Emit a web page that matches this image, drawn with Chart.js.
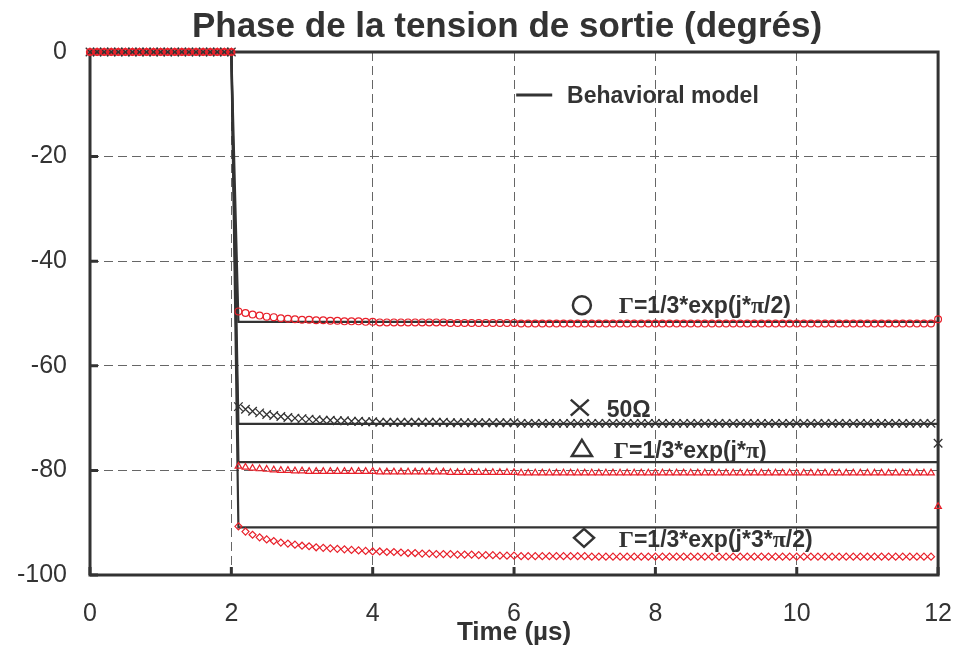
<!DOCTYPE html>
<html>
<head>
<meta charset="utf-8">
<script src="https://cdn.jsdelivr.net/npm/chart.js@4/dist/chart.umd.min.js"></script>
<style>
  html, body { margin: 0; padding: 0; background: #fff; }
  canvas { display: block; }
</style>
</head>
<body>
<canvas id="chart" width="976" height="648"></canvas>
<script>
// sample times of the simulated points (µs)
const time = [
  0, 0.1, 0.2, 0.3, 0.4, 0.5, 0.6, 0.7, 0.8, 0.9,
  1.0, 1.1, 1.2, 1.3, 1.4, 1.5, 1.6, 1.7, 1.8, 1.9,
  2.0, 2.1, 2.2, 2.3, 2.4, 2.5, 2.6, 2.7, 2.8, 2.9,
  3.0, 3.1, 3.2, 3.3, 3.4, 3.5, 3.6, 3.7, 3.8, 3.9,
  4.0, 4.1, 4.2, 4.3, 4.4, 4.5, 4.6, 4.7, 4.8, 4.9,
  5.0, 5.1, 5.2, 5.3, 5.4, 5.5, 5.6, 5.7, 5.8, 5.9,
  6.0, 6.1, 6.2, 6.3, 6.4, 6.5, 6.6, 6.7, 6.8, 6.9,
  7.0, 7.1, 7.2, 7.3, 7.4, 7.5, 7.6, 7.7, 7.8, 7.9,
  8.0, 8.1, 8.2, 8.3, 8.4, 8.5, 8.6, 8.7, 8.8, 8.9,
  9.0, 9.1, 9.2, 9.3, 9.4, 9.5, 9.6, 9.7, 9.8, 9.9,
  10.0, 10.1, 10.2, 10.3, 10.4, 10.5, 10.6, 10.7, 10.8, 10.9,
  11.0, 11.1, 11.2, 11.3, 11.4, 11.5, 11.6, 11.7, 11.8, 11.9,
  12.0
];

// Γ=1/3*exp(j*π/2)  (red circles)
const phasePi2 = [
  0, 0, 0, 0, 0, 0, 0, 0, 0, 0,
  0, 0, 0, 0, 0, 0, 0, 0, 0, 0,
  0, -49.6, -49.9, -50.2, -50.4, -50.6, -50.7, -50.9, -51.0, -51.1,
  -51.2, -51.2, -51.3, -51.3, -51.4, -51.4, -51.5, -51.5, -51.5, -51.6,
  -51.6, -51.7, -51.7, -51.7, -51.7, -51.7, -51.7, -51.7, -51.7, -51.7,
  -51.7, -51.8, -51.8, -51.8, -51.8, -51.8, -51.8, -51.8, -51.8, -51.8,
  -51.8, -51.9, -51.9, -51.9, -51.9, -51.9, -51.9, -51.9, -51.9, -51.9,
  -51.9, -51.9, -51.9, -51.9, -51.9, -51.9, -51.9, -51.9, -51.9, -51.9,
  -51.9, -51.9, -51.9, -51.9, -51.9, -51.9, -51.9, -51.9, -51.9, -51.9,
  -51.9, -51.9, -51.9, -51.9, -51.9, -51.9, -51.9, -51.9, -51.9, -51.9,
  -51.9, -51.9, -51.9, -51.9, -51.9, -51.9, -51.9, -51.9, -51.9, -51.9,
  -51.9, -51.9, -51.9, -51.9, -51.9, -51.9, -51.9, -51.9, -51.9, -51.9,
  -51.1
];

// 50Ω load (dark crosses)
const phase50 = [
  0, 0, 0, 0, 0, 0, 0, 0, 0, 0,
  0, 0, 0, 0, 0, 0, 0, 0, 0, 0,
  0, -67.8, -68.3, -68.7, -69.0, -69.3, -69.5, -69.7, -69.9, -70.0,
  -70.1, -70.2, -70.3, -70.4, -70.4, -70.5, -70.5, -70.6, -70.6, -70.7,
  -70.7, -70.8, -70.8, -70.8, -70.8, -70.8, -70.8, -70.8, -70.8, -70.8,
  -70.8, -70.9, -70.9, -70.9, -70.9, -70.9, -70.9, -70.9, -70.9, -70.9,
  -70.9, -71.0, -71.0, -71.0, -71.0, -71.0, -71.0, -71.0, -71.0, -71.0,
  -71.0, -71.0, -71.0, -71.0, -71.0, -71.0, -71.0, -71.0, -71.0, -71.0,
  -71.0, -71.0, -71.0, -71.0, -71.0, -71.0, -71.0, -71.0, -71.0, -71.0,
  -71.0, -71.0, -71.0, -71.0, -71.0, -71.0, -71.0, -71.0, -71.0, -71.0,
  -71.0, -71.0, -71.0, -71.0, -71.0, -71.0, -71.0, -71.0, -71.0, -71.0,
  -71.0, -71.0, -71.0, -71.0, -71.0, -71.0, -71.0, -71.0, -71.0, -71.0,
  -74.8
];

// Γ=1/3*exp(j*π)  (red triangles)
const phasePi = [
  0, 0, 0, 0, 0, 0, 0, 0, 0, 0,
  0, 0, 0, 0, 0, 0, 0, 0, 0, 0,
  0, -79.2, -79.4, -79.6, -79.7, -79.8, -79.9, -80.0, -80.0, -80.1,
  -80.1, -80.2, -80.2, -80.2, -80.2, -80.2, -80.2, -80.2, -80.2, -80.2,
  -80.2, -80.3, -80.3, -80.3, -80.3, -80.3, -80.3, -80.3, -80.3, -80.3,
  -80.3, -80.4, -80.4, -80.4, -80.4, -80.4, -80.4, -80.4, -80.4, -80.4,
  -80.4, -80.5, -80.5, -80.5, -80.5, -80.5, -80.5, -80.5, -80.5, -80.5,
  -80.5, -80.5, -80.5, -80.5, -80.5, -80.5, -80.5, -80.5, -80.5, -80.5,
  -80.5, -80.5, -80.5, -80.5, -80.5, -80.5, -80.5, -80.5, -80.5, -80.5,
  -80.5, -80.5, -80.5, -80.5, -80.5, -80.5, -80.5, -80.5, -80.5, -80.5,
  -80.5, -80.5, -80.5, -80.5, -80.5, -80.5, -80.5, -80.5, -80.5, -80.5,
  -80.5, -80.5, -80.5, -80.5, -80.5, -80.5, -80.5, -80.5, -80.5, -80.5,
  -86.9
];

// Γ=1/3*exp(j*3*π/2)  (red diamonds)
const phase3Pi2 = [
  0, 0, 0, 0, 0, 0, 0, 0, 0, 0,
  0, 0, 0, 0, 0, 0, 0, 0, 0, 0,
  0, -90.7, -91.7, -92.3, -92.8, -93.2, -93.5, -93.8, -94.0, -94.2,
  -94.4, -94.5, -94.7, -94.8, -94.9, -95.0, -95.1, -95.2, -95.3, -95.4,
  -95.5, -95.5, -95.6, -95.6, -95.7, -95.8, -95.8, -95.9, -95.9, -96.0,
  -96.0, -96.0, -96.1, -96.1, -96.1, -96.2, -96.2, -96.2, -96.3, -96.3,
  -96.3, -96.4, -96.4, -96.4, -96.4, -96.4, -96.4, -96.4, -96.4, -96.4,
  -96.4, -96.5, -96.5, -96.5, -96.5, -96.5, -96.5, -96.5, -96.5, -96.5,
  -96.5, -96.5, -96.5, -96.5, -96.5, -96.5, -96.5, -96.5, -96.5, -96.5,
  -96.5, -96.5, -96.5, -96.5, -96.5, -96.5, -96.5, -96.5, -96.5, -96.5,
  -96.5, -96.5, -96.5, -96.5, -96.5, -96.5, -96.5, -96.5, -96.5, -96.5,
  -96.5, -96.5, -96.5, -96.5, -96.5, -96.5, -96.5, -96.5, -96.5, -96.5,
  null
];

// behavioral model: step at 2 µs to a constant phase
const modelTime = [0, 2.0, 2.1, 12];
const modelPi2 = [0, 0, -51.6, -51.6];
const model50 = [0, 0, -71.1, -71.1];
const modelPi = [0, 0, -78.4, -78.4];
const model3Pi2 = [0, 0, -90.9, -90.9];

const xTicks = [0, 2, 4, 6, 8, 10, 12];
const yTicks = [0, -20, -40, -60, -80, -100];

const RED = "#e8202a";
const INK = "#333333";
const SANS = '"Liberation Sans", Arial, sans-serif';
const SERIF = '"Liberation Serif", "Times New Roman", serif';

function pairs(xs, ys) {
  return xs.map((x, i) => ({ x: x, y: ys[i] }));
}

function markers(label, ys, style, radius, color, width) {
  return {
    label: label,
    data: pairs(time, ys),
    showLine: false,
    pointStyle: style,
    pointRadius: radius,
    pointBorderWidth: width,
    pointBorderColor: color,
    pointBackgroundColor: "rgba(0,0,0,0)",
    borderColor: color,
    clip: 12
  };
}

function modelLine(ys) {
  return {
    label: "Behavioral model",
    data: pairs(modelTime, ys),
    showLine: true,
    borderColor: INK,
    borderWidth: 2.2,
    pointRadius: 0,
    clip: 4
  };
}

// write a line mixing fonts (Γ and π come from a serif face)
function drawRuns(ctx, x, y, runs) {
  for (const [text, font] of runs) {
    ctx.font = font;
    ctx.fillText(text, x, y);
    x += ctx.measureText(text).width;
  }
}

function gammaRuns(body) {
  const sans = "bold 23px " + SANS;
  const serif = "bold 24px " + SERIF;
  const runs = [["Γ", serif]];
  body.split("π").forEach((part, i) => {
    if (i > 0) runs.push(["π", serif]);
    if (part) runs.push([part, sans]);
  });
  return runs;
}

function drawSymbol(ctx, kind, cx, cy) {
  ctx.save();
  ctx.strokeStyle = INK;
  ctx.lineWidth = 2.5;
  ctx.beginPath();
  if (kind === "circle") {
    ctx.arc(cx, cy, 9, 0, Math.PI * 2);
  } else if (kind === "cross") {
    ctx.moveTo(cx - 9, cy - 8); ctx.lineTo(cx + 9, cy + 8);
    ctx.moveTo(cx + 9, cy - 8); ctx.lineTo(cx - 9, cy + 8);
  } else if (kind === "triangle") {
    ctx.moveTo(cx, cy - 8); ctx.lineTo(cx + 10, cy + 8); ctx.lineTo(cx - 10, cy + 8); ctx.closePath();
  } else if (kind === "diamond") {
    ctx.moveTo(cx, cy - 9); ctx.lineTo(cx + 10, cy); ctx.lineTo(cx, cy + 9); ctx.lineTo(cx - 10, cy); ctx.closePath();
  }
  ctx.stroke();
  ctx.restore();
}

// frame + inward tick marks, under the points
const framePlugin = {
  id: "frame",
  beforeDatasetsDraw(chart) {
    const { ctx, chartArea: a, scales } = chart;
    ctx.save();
    ctx.strokeStyle = INK;
    ctx.lineWidth = 3;
    ctx.strokeRect(a.left, a.top, a.right - a.left, a.bottom - a.top);
    ctx.beginPath();
    for (const t of xTicks) {
      const px = scales.x.getPixelForValue(t);
      ctx.moveTo(px, a.bottom);
      ctx.lineTo(px, a.bottom - 8);
    }
    for (const v of yTicks) {
      const py = scales.y.getPixelForValue(v);
      ctx.moveTo(a.left, py);
      ctx.lineTo(a.left + 8, py);
    }
    ctx.stroke();
    ctx.restore();
  }
};

// title, legend and curve labels
const labelPlugin = {
  id: "labels",
  afterDraw(chart) {
    const { ctx, scales } = chart;
    const X = t => scales.x.getPixelForValue(t);
    const Y = v => scales.y.getPixelForValue(v);
    ctx.save();
    ctx.fillStyle = INK;
    ctx.textBaseline = "alphabetic";

    ctx.textAlign = "center";
    ctx.font = "bold 35px " + SANS;
    ctx.fillText("Phase de la tension de sortie (degrés)", 507, 37);

    ctx.textAlign = "left";
    ctx.strokeStyle = INK;
    ctx.lineWidth = 3;
    ctx.beginPath();
    ctx.moveTo(X(6.03), Y(-8.2));
    ctx.lineTo(X(6.54), Y(-8.2));
    ctx.stroke();
    ctx.font = "bold 23px " + SANS;
    ctx.fillText("Behavioral model", X(6.75), Y(-9.75));

    drawSymbol(ctx, "circle", X(6.96), Y(-48.4));
    drawRuns(ctx, X(7.48), Y(-49.9), gammaRuns("=1/3*exp(j*π/2)"));

    drawSymbol(ctx, "cross", X(6.93), Y(-68.0));
    ctx.font = "bold 23px " + SANS;
    ctx.fillText("50Ω", X(7.31), Y(-69.8));

    drawSymbol(ctx, "triangle", X(6.96), Y(-75.7));
    drawRuns(ctx, X(7.41), Y(-77.6), gammaRuns("=1/3*exp(j*π)"));

    drawSymbol(ctx, "diamond", X(6.99), Y(-92.9));
    drawRuns(ctx, X(7.48), Y(-94.6), gammaRuns("=1/3*exp(j*3*π/2)"));

    ctx.restore();
  }
};

const gridColor = ctx => (ctx.tick && (ctx.tick.value === 0 || ctx.tick.value === 12 || ctx.tick.value === -100)) ? "rgba(0,0,0,0)" : "#666";

new Chart(document.getElementById("chart"), {
  type: "line",
  data: {
    datasets: [
      markers("Γ=1/3*exp(j*π/2)", phasePi2, "circle", 3.4, RED, 1.2),
      markers("50Ω", phase50, "crossRot", 6, INK, 1.3),
      markers("Γ=1/3*exp(j*π)", phasePi, "triangle", 3.8, RED, 1.2),
      markers("Γ=1/3*exp(j*3*π/2)", phase3Pi2, "rectRot", 3.5, RED, 1.2),
      modelLine(modelPi2),
      modelLine(model50),
      modelLine(modelPi),
      modelLine(model3Pi2)
    ]
  },
  options: {
    responsive: false,
    animation: false,
    devicePixelRatio: 1,
    layout: { autoPadding: false, padding: { left: 0, right: 34, top: 52, bottom: 0 } },
    plugins: {
      legend: { display: false },
      title: { display: false },
      tooltip: { enabled: false }
    },
    scales: {
      x: {
        type: "linear",
        min: 0,
        max: 12,
        afterBuildTicks: s => { s.ticks = xTicks.map(v => ({ value: v })); },
        afterFit: s => { s.height = 73; },
        ticks: { font: { family: SANS, size: 25 }, color: INK, padding: 24, maxRotation: 0 },
        grid: { color: gridColor, lineWidth: 1, drawTicks: false },
        border: { display: false, dash: [9, 5] },
        title: {
          display: true,
          text: "Time (µs)",
          font: { family: SANS, size: 26, weight: "bold" },
          color: INK,
          padding: 0
        }
      },
      y: {
        min: -100,
        max: 0,
        afterBuildTicks: s => { s.ticks = yTicks.map(v => ({ value: v })); },
        afterFit: s => { s.width = 90; },
        ticks: { font: { family: SANS, size: 25 }, color: INK, padding: 23 },
        grid: { color: gridColor, lineWidth: 1, drawTicks: false },
        border: { display: false, dash: [9, 5] }
      }
    }
  },
  plugins: [framePlugin, labelPlugin]
});
</script>
</body>
</html>
